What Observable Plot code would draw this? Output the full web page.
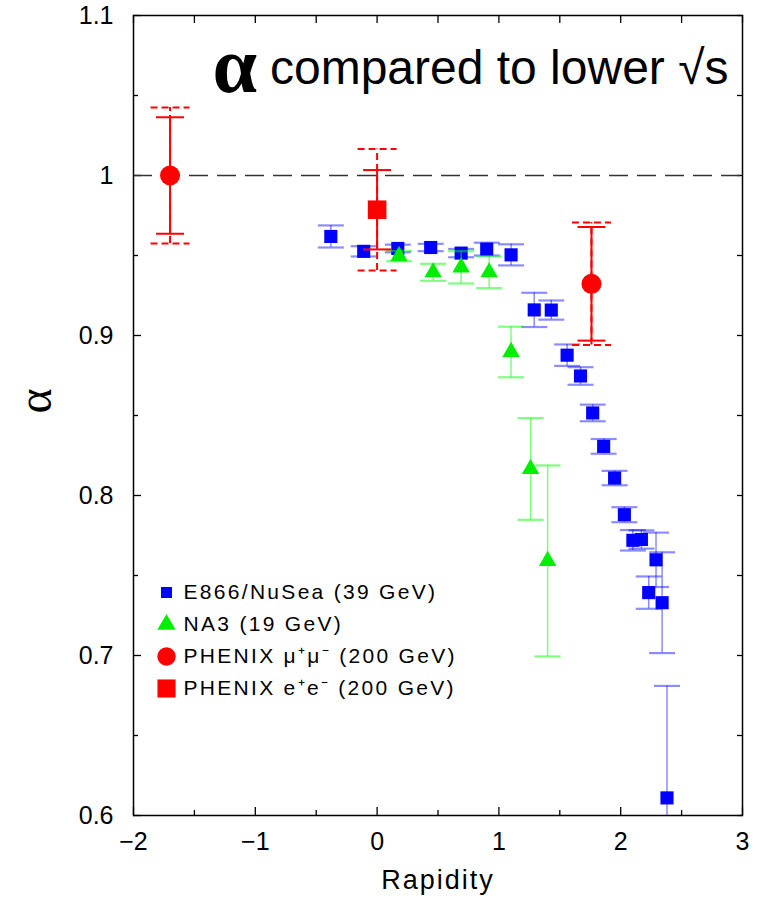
<!DOCTYPE html>
<html><head><meta charset="utf-8">
<script src="https://cdn.jsdelivr.net/npm/d3@7"></script>
<script src="https://cdn.jsdelivr.net/npm/@observablehq/plot@0.6"></script>
<style>body{margin:0;background:#fff}</style>
</head><body><div id="chart"></div>
<script>
// ---- data ----
const e866X   = [-0.38, -0.11, 0.17, 0.44, 0.69, 0.90, 1.10, 1.29, 1.43, 1.56, 1.67, 1.77, 1.86, 1.95, 2.03, 2.10, 2.17, 2.29, 2.23, 2.34, 2.38];
const e866Y   = [0.9619, 0.9526, 0.9544, 0.9550, 0.9515, 0.9540, 0.9504, 0.9160, 0.9159, 0.8877, 0.8747, 0.8516, 0.8307, 0.8109, 0.7880, 0.7720, 0.7725, 0.7598, 0.7393, 0.7330, 0.6110];
const e866Err = [0.0069, 0.0032, 0.0024, 0.0023, 0.0026, 0.0040, 0.0066, 0.0107, 0.0060, 0.0067, 0.0055, 0.0052, 0.0046, 0.0045, 0.0047, 0.0064, 0.0057, 0.0170, 0.0101, 0.0315, 0.0700];

const na3X   = [0.18, 0.46, 0.69, 0.92, 1.10, 1.26, 1.40];
const na3Y   = [0.9496, 0.9395, 0.9426, 0.9395, 0.8897, 0.8166, 0.7591];
const na3Err = [0.0032, 0.0053, 0.0101, 0.0099, 0.0158, 0.0318, 0.0597];

const muX    = [-1.70, 1.76];
const muY    = [1.000, 0.9323];
const muStat = [0.0364, 0.0355];
const muSys  = [0.0425, 0.0383];

const eeX    = [0.0];
const eeY    = [0.9786];
const eeStat = [0.0248];
const eeSys  = [0.0379];

const xMajor = [-2, -1, 0, 1, 2, 3];
const xMinor = [-1.5, -0.5, 0.5, 1.5, 2.5];
const yMajor = [0.6, 0.7, 0.8, 0.9, 1, 1.1];
const yMinor = [0.65, 0.75, 0.85, 0.95, 1.05];
const yTickLabels = ["0.6", "0.7", "0.8", "0.9", "1", "1.1"];
const xTickLabels = ["\u22122", "\u22121", "0", "1", "2", "3"];

const legendLabels = ["E866/NuSea (39 GeV)", "NA3 (19 GeV)", "PHENIX \u03bc\u207a\u03bc\u207b (200 GeV)", "PHENIX e\u207ae\u207b (200 GeV)"];
const legendColors = ["#0000ff", "#00ee00", "#ff0000", "#ff0000"];
const legendSymbols = ["square", "triangle", "circle", "square"];
const legendR = [6.2, 6.8, 9.2, 10.2];

const titleAlpha = "\u03b1";
const titleText = "compared to lower \u221as";
const xLabel = "Rapidity";
const yLabel = "\u03b1";

// ---- tables ----
const e866 = e866X.map((x, i) => ({x, y: e866Y[i], e: e866Err[i]}));
const na3 = na3X.map((x, i) => ({x, y: na3Y[i], e: na3Err[i]}));
const mu = muX.map((x, i) => ({x, y: muY[i], s: muStat[i], sys: muSys[i]}));
const ee = eeX.map((x, i) => ({x, y: eeY[i], s: eeStat[i], sys: eeSys[i]}));

const hline = {draw(ctx, size) { const r = Math.sqrt(size / Math.PI); ctx.moveTo(-r, 0); ctx.lineTo(r, 0); }};

const W = 757, H = 899, mL = 133, mR = 15, mT = 15, mB = 84;
const iW = W - mL - mR, iH = H - mT - mB;
const BLUE = "#0000ff", GREEN = "#00ee00", RED = "#ff0000";
const sans = "'Liberation Sans', Arial, Helvetica, sans-serif";
const serif = "'Liberation Serif', 'Times New Roman', serif";

function errMarks(data, eKey, color, opts) {
  const {r = 13, width = 1.5, capWidth = 2, opacity = 1, dash = null} = opts;
  return [
    Plot.ruleX(data, {x: "x", y1: d => d.y - d[eKey], y2: d => d.y + d[eKey], stroke: color, strokeWidth: width, strokeOpacity: opacity, strokeDasharray: dash, clip: true}),
    Plot.dot(data, {x: "x", y: d => d.y + d[eKey], symbol: hline, r, fill: "none", stroke: color, strokeWidth: capWidth, strokeOpacity: opacity, strokeDasharray: dash, clip: true}),
    Plot.dot(data, {x: "x", y: d => d.y - d[eKey], symbol: hline, r, fill: "none", stroke: color, strokeWidth: capWidth, strokeOpacity: opacity, strokeDasharray: dash, clip: true})
  ];
}

const legendMarks = legendLabels.flatMap((label, i) => [
  Plot.dot([label], {frameAnchor: "bottom-left", dx: 33, dy: -223 + i * 32, symbol: legendSymbols[i], r: legendR[i], fill: legendColors[i], stroke: null}),
  Plot.text([label], {frameAnchor: "bottom-left", dx: 50, dy: -223 + i * 32, text: d => d, textAnchor: "start", lineAnchor: "middle", fontSize: 21, fontFamily: sans, fill: "black"})
]);

const chart = Plot.plot({
  width: W, height: H,
  marginLeft: mL, marginRight: mR, marginTop: mT, marginBottom: mB,
  x: {domain: [-2, 3]},
  y: {domain: [0.6, 1.1]},
  style: {fontFamily: sans, background: "white"},
  marks: [
    Plot.axisX({ticks: xMajor, tickSize: 0, tickPadding: 17, tickFormat: d => xTickLabels[xMajor.indexOf(d)], fontSize: 25, label: null}),
    Plot.axisY({ticks: yMajor, tickSize: 0, tickPadding: 20, tickFormat: d => yTickLabels[yMajor.indexOf(d)], fontSize: 25, label: null}),
    // inward ticks on all four sides
    Plot.tickX(xMajor, {x: d => d, insetTop: iH - 8, stroke: "black", strokeWidth: 1.3}),
    Plot.tickX(xMinor, {x: d => d, insetTop: iH - 5, stroke: "black", strokeWidth: 1.3}),
    Plot.tickX(xMajor.concat(xMinor), {x: d => d, insetBottom: iH - 8, stroke: "black", strokeWidth: 1.3}),
    Plot.tickY(yMajor, {y: d => d, insetRight: iW - 8, stroke: "black", strokeWidth: 1.3}),
    Plot.tickY(yMinor, {y: d => d, insetRight: iW - 5, stroke: "black", strokeWidth: 1.3}),
    Plot.tickY(yMajor.concat(yMinor), {y: d => d, insetLeft: iW - 5, stroke: "black", strokeWidth: 1.3}),
    Plot.ruleY([1], {stroke: "#333", strokeWidth: 1.6, strokeDasharray: "19,9"}),
    // E866
    ...errMarks(e866, "e", BLUE, {r: 13, width: 1.5, capWidth: 2.2, opacity: 0.45}),
    Plot.dot(e866, {x: "x", y: "y", symbol: "square", r: 7.4, fill: BLUE}),
    // NA3
    ...errMarks(na3, "e", "#00ff00", {r: 13, width: 1.5, capWidth: 2.2, opacity: 0.5}),
    Plot.dot(na3, {x: "x", y: "y", symbol: "triangle", r: 6.5, fill: GREEN}),
    // PHENIX e+e-
    ...errMarks(ee, "sys", RED, {r: 19.5, width: 2, capWidth: 2, dash: "7,4"}),
    ...errMarks(ee, "s", RED, {r: 14, width: 2, capWidth: 2}),
    Plot.dot(ee, {x: "x", y: "y", symbol: "square", r: 10.5, fill: RED}),
    // PHENIX mu+mu-
    ...errMarks(mu, "sys", RED, {r: 19.5, width: 2, capWidth: 2, dash: "7,4"}),
    ...errMarks(mu, "s", RED, {r: 14, width: 2, capWidth: 2}),
    Plot.dot(mu, {x: "x", y: "y", symbol: "circle", r: 10, fill: RED}),
    // legend
    ...legendMarks,
    // title
    Plot.text([titleText], {frameAnchor: "top-right", dx: -14, dy: 53, text: d => d, textAnchor: "end", lineAnchor: "middle", fontSize: 48, fontFamily: sans, fill: "black"}),
    Plot.text([titleAlpha], {frameAnchor: "top-left", dx: 79, dy: 51, text: d => d, textAnchor: "start", lineAnchor: "middle", fontSize: 80, fontWeight: "bold", fontFamily: serif, fill: "black"}),
    // axis labels
    Plot.text([xLabel], {frameAnchor: "bottom", dy: 65, text: d => d, lineAnchor: "middle", fontSize: 27, fontFamily: sans, fill: "black"}),
    Plot.text([yLabel], {frameAnchor: "left", dx: -98, dy: -2, text: d => d, rotate: -90, lineAnchor: "middle", fontSize: 48, fontFamily: serif, fill: "black"}),
    Plot.frame({stroke: "black", strokeWidth: 1.5})
  ]
});

// letter spacing (Plot's text mark has no option for it)
const spacing = new Map([...legendLabels.map(l => [l, "2.3px"]), [xLabel, "2px"]]);
d3.select(chart).selectAll("text").each(function() {
  const t = this.textContent;
  if (spacing.has(t)) this.setAttribute("letter-spacing", spacing.get(t));
});
document.getElementById("chart").appendChild(chart);
</script>
</body></html>
